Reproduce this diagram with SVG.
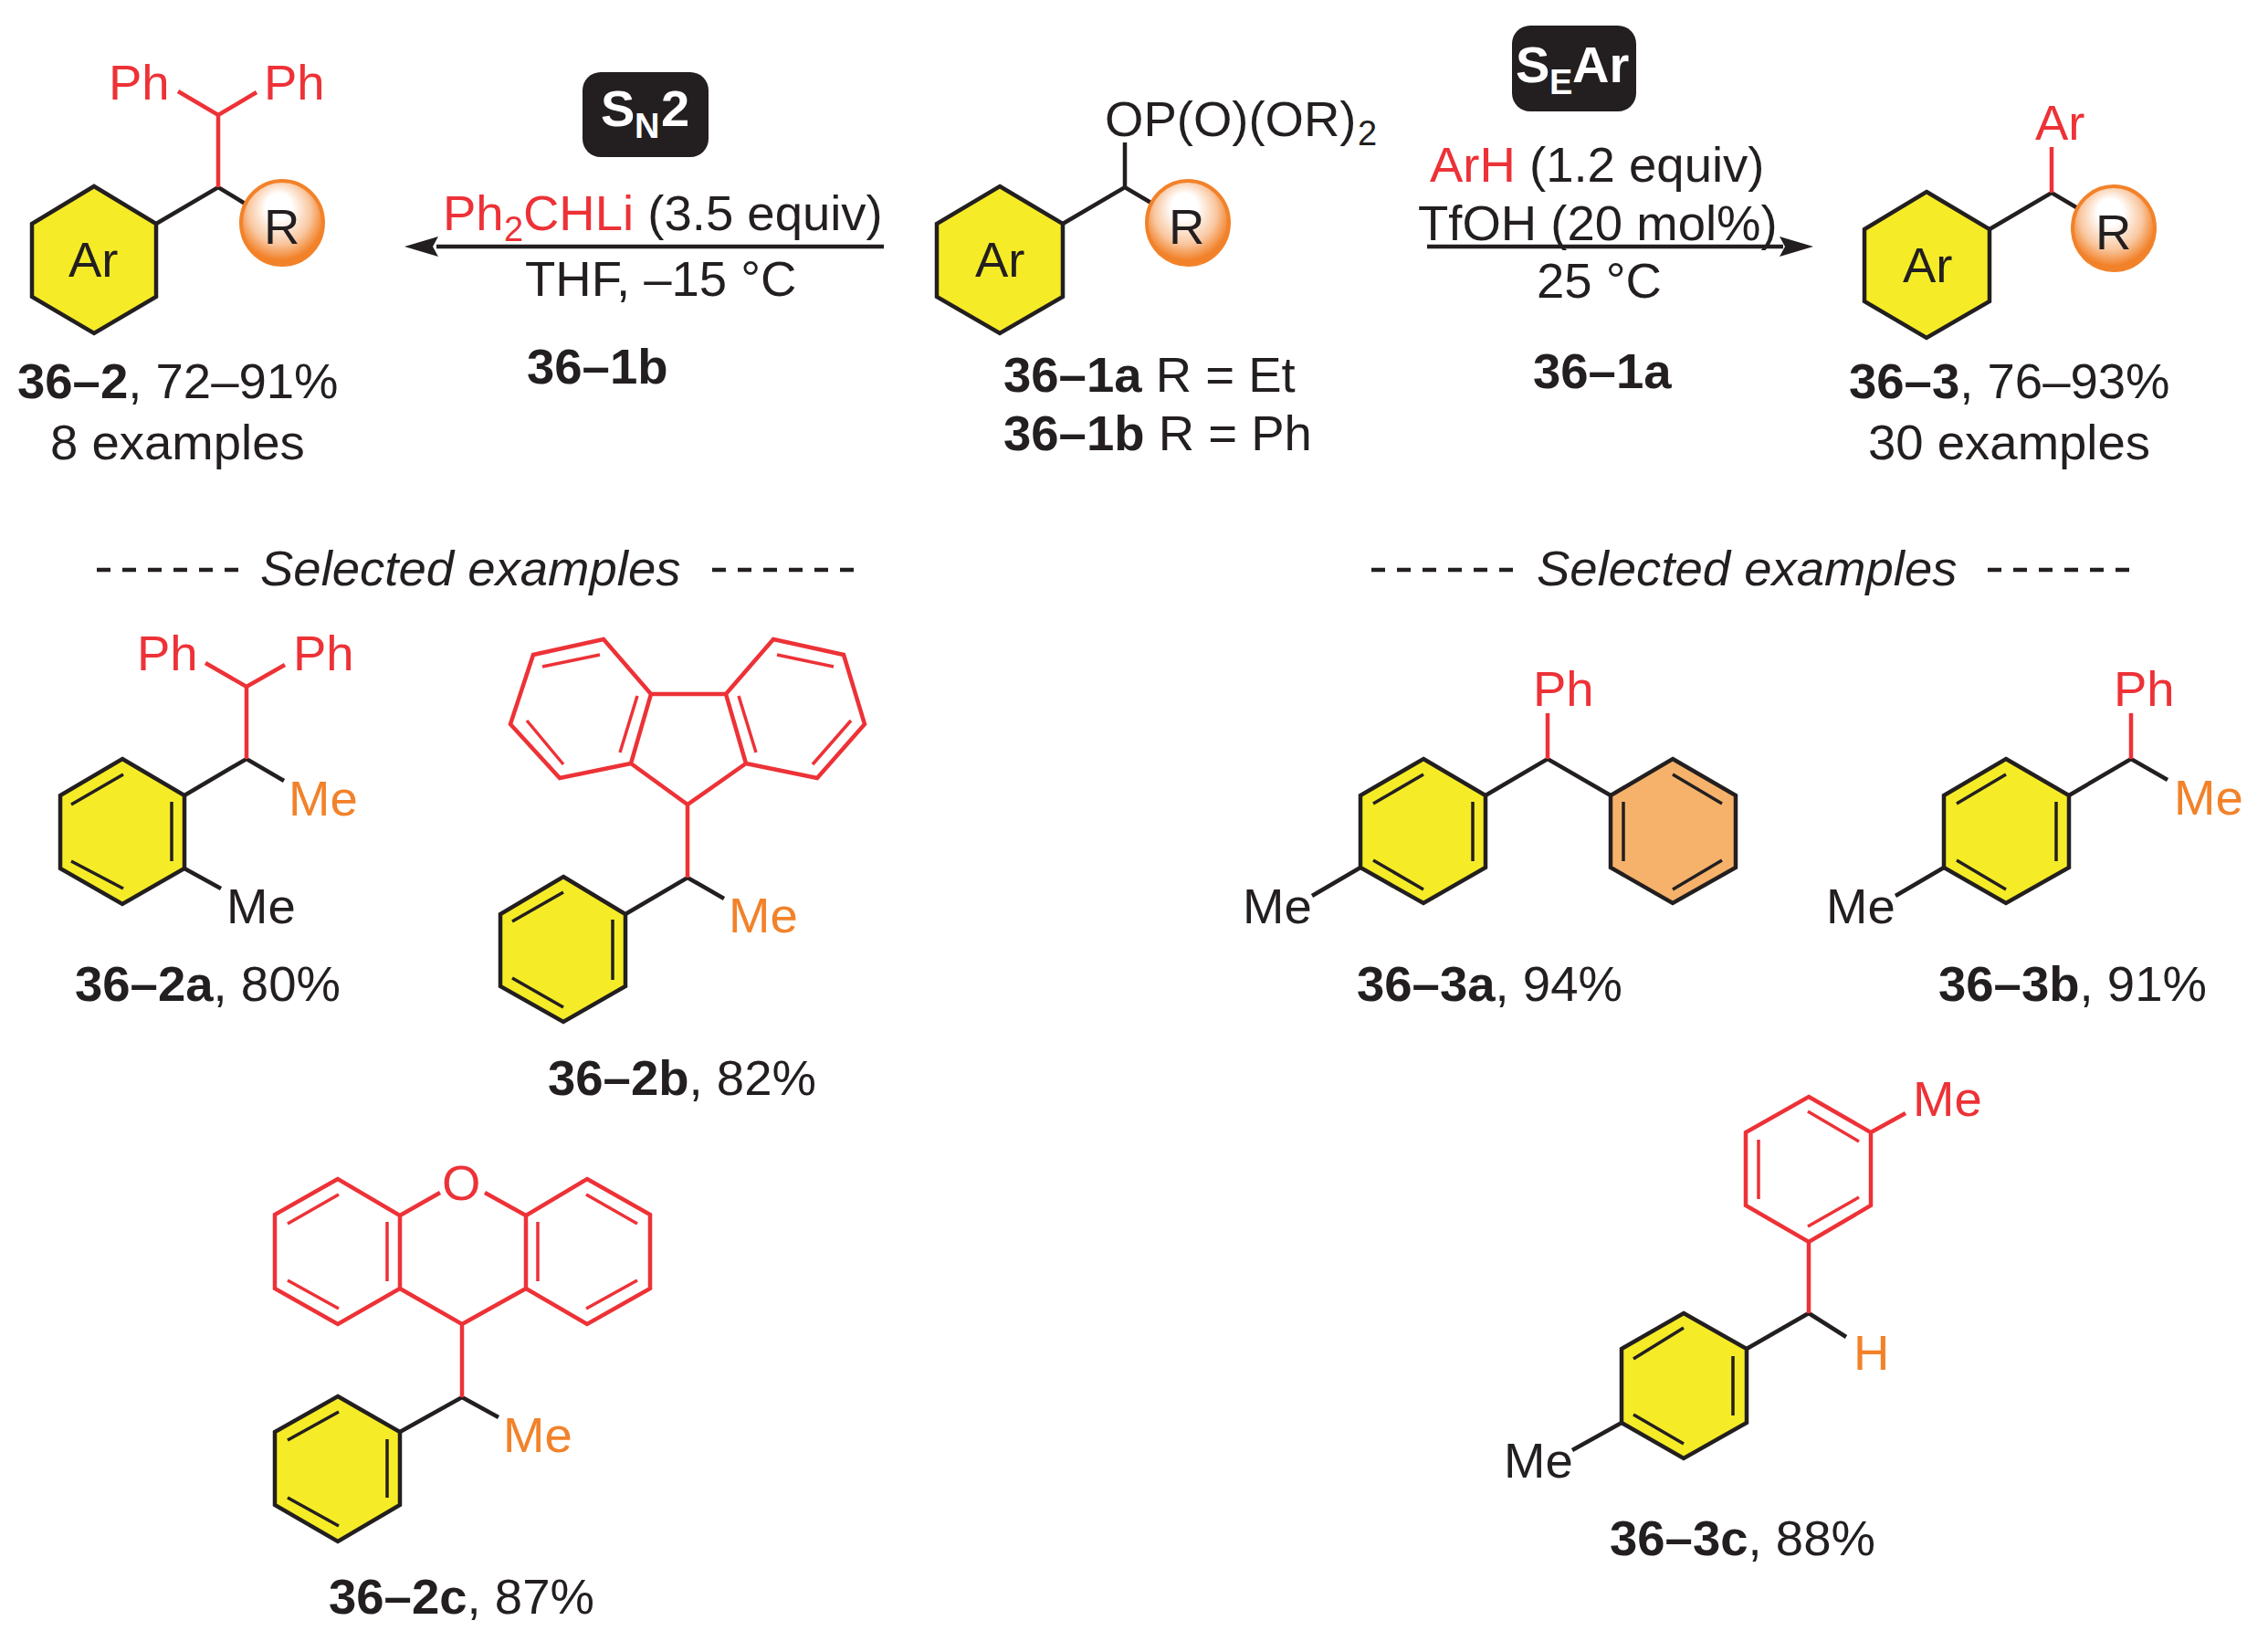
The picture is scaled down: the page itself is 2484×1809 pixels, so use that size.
<svg xmlns="http://www.w3.org/2000/svg" width="2484" height="1809" viewBox="0 0 2484 1809">
<style>
text{font-family:"Liberation Sans",Arial,sans-serif;font-size:54.5px;fill:#231f20}
.b{font-weight:700}
.i{font-style:italic}
.r{fill:#ed3237}
.o{fill:#f2822a}
.w{fill:#fff}
.s{font-size:38px}
.k,.kr,.in,.inr{fill:none;stroke-linecap:butt;stroke-linejoin:miter}
.k{stroke:#231f20;stroke-width:4.5}
.kr{stroke:#ed3237;stroke-width:4.5}
.in{stroke:#231f20;stroke-width:3.5}
.inr{stroke:#ed3237;stroke-width:3.5}
.y{fill:#f5ec27;stroke:#231f20;stroke-width:4.5;stroke-linejoin:miter}
.p{fill:#f6b26b;stroke:#231f20;stroke-width:4.5;stroke-linejoin:miter}
.ball{fill:url(#ball);stroke:#f2822a;stroke-width:4}
.box{fill:#231f20}
.dash{stroke:#231f20;stroke-width:4.5;stroke-dasharray:15 13;fill:none}
.arr{stroke:#231f20;stroke-width:4.5;fill:none}
.head{fill:#231f20}
</style>
<defs>
<radialGradient id="ball" cx="0.48" cy="0.42" r="0.56" fx="0.45" fy="0.26">
<stop offset="0" stop-color="#fff"/>
<stop offset="0.28" stop-color="#fff"/>
<stop offset="0.68" stop-color="#f9c7a0"/>
<stop offset="0.95" stop-color="#f2822a"/>
</radialGradient>
</defs>
<rect width="2484" height="1809" fill="#fff"/>

<g id="connectors">
<path class="arr" d="M968 270H478"/>
<path class="head" d="M443 270L480 259L474 270L480 281Z"/>
<path class="arr" d="M1563 270H1953"/>
<path class="head" d="M1986 270L1949 259L1955 270L1949 281Z"/>
<path class="dash" d="M106 624H262"/>
<path class="dash" d="M780 624H936"/>
<path class="dash" d="M1502 624H1658"/>
<path class="dash" d="M2177 624H2333"/>
</g>

<g id="badge-sn2">
<rect class="box" x="638" y="79" width="138" height="93" rx="20"/>
<text class="b w" x="658" y="138" style="font-size:56px">S</text>
<text class="b w s" x="695" y="151">N</text>
<text class="b w" x="724" y="138" style="font-size:56px">2</text>
</g>
<g id="conditions-sn2">
<text class="r" x="485" y="252">Ph</text>
<text class="r s" x="552" y="264">2</text>
<text x="573" y="252"><tspan class="r">CHLi</tspan> (3.5 equiv)</text>
<text x="575" y="324">THF, –15 °C</text>
<text class="b" x="577" y="420">36–1b</text>
</g>

<g id="badge-sear">
<rect class="box" x="1656" y="28" width="136" height="94" rx="20"/>
<text class="b w" x="1660" y="90" style="font-size:56px">S</text>
<text class="b w s" x="1697" y="103">E</text>
<text class="b w" x="1722" y="90" style="font-size:56px">Ar</text>
</g>
<g id="conditions-sear">
<text x="1566" y="199"><tspan class="r">ArH</tspan> (1.2 equiv)</text>
<text x="1553" y="263">TfOH (20 mol%)</text>
<text x="1683" y="326">25 °C</text>
<text class="b" x="1679" y="425">36–1a</text>
</g>

<g id="compound-36-2">
<path class="y" d="M103 204L171 245V325L103 365L35 325V245Z"/>
<path class="k" d="M171 245L239 205L270 224"/>
<path class="kr" d="M239 205V126M195 100L239 126L281 101"/>
<ellipse class="ball" cx="309" cy="244" rx="45" ry="46"/>
<text x="75" y="303">Ar</text>
<text x="289" y="267">R</text>
<text class="r" x="119" y="109">Ph</text>
<text class="r" x="289" y="109">Ph</text>
<text x="19" y="436"><tspan class="b">36–2</tspan>, 72–91%</text>
<text x="55" y="503">8 examples</text>
</g>

<g id="compound-36-1">
<path class="y" d="M1095 204L1164 245V325L1095 365L1026 325V245Z"/>
<path class="k" d="M1164 245L1232 205L1264 224M1232 205V156"/>
<ellipse class="ball" cx="1301" cy="244" rx="45" ry="46"/>
<text x="1068" y="303">Ar</text>
<text x="1280" y="267">R</text>
<text x="1210" y="149">OP(O)(OR)</text>
<text class="s" x="1487" y="159">2</text>
<text x="1099" y="429"><tspan class="b">36–1a</tspan> R = Et</text>
<text x="1099" y="493"><tspan class="b">36–1b</tspan> R = Ph</text>
</g>

<g id="compound-36-3">
<path class="y" d="M2110 210L2179 251V330L2110 370L2042 330V251Z"/>
<path class="k" d="M2179 251L2247 211L2279 230"/>
<path class="kr" d="M2247 211V161"/>
<ellipse class="ball" cx="2315" cy="250" rx="45" ry="46"/>
<text x="2084" y="309">Ar</text>
<text x="2295" y="273">R</text>
<text class="r" x="2229" y="153">Ar</text>
<text x="2025" y="436"><tspan class="b">36–3</tspan>, 76–93%</text>
<text x="2046" y="503">30 examples</text>
</g>

<text class="i" x="285" y="641">Selected examples</text>
<text class="i" x="1683" y="641">Selected examples</text>

<g id="compound-36-2a">
<path class="y" d="M134 831L202 871V951L134 990L66 951V871Z"/>
<path class="in" d="M135 848L78 881M188 878V943M78 943L135 973"/>
<path class="k" d="M202 871L270 831L311 855M202 951L242 973"/>
<path class="kr" d="M270 831V752M225 726L270 752L312 728"/>
<text class="r" x="150" y="734">Ph</text>
<text class="r" x="321" y="734">Ph</text>
<text class="o" x="316" y="893">Me</text>
<text x="248" y="1011">Me</text>
<text x="82" y="1096"><tspan class="b">36–2a</tspan>, 80%</text>
</g>

<g id="compound-36-2b">
<path class="y" d="M617 960L685 1001V1080L617 1119L548 1080V1001Z"/>
<path class="in" d="M617 977L561 1009M671 1007V1073M561 1071L617 1103"/>
<path class="k" d="M685 1001L753 961L793 984"/>
<path class="kr" d="M753 961V881M691 836L753 881L817 836M713 760H795M713 760L661 700L584 717L559 793L613 852L691 836ZM795 760L847 700L924 717L947 793L895 852L817 836Z"/>
<path class="inr" d="M657 717L594 730M577 789L617 837M698 762L679 824M851 717L913 730M932 789L890 837M809 762L828 824"/>
<text class="o" x="798" y="1021">Me</text>
<text x="600" y="1199"><tspan class="b">36–2b</tspan>, 82%</text>
</g>

<g id="compound-36-2c">
<path class="y" d="M370 1529L438 1568V1648L370 1688L301 1648V1568Z"/>
<path class="in" d="M371 1546L315 1577M424 1576V1640M315 1640L371 1671"/>
<path class="k" d="M438 1568L506 1530L546 1552"/>
<path class="kr" d="M370 1291L301 1330V1411L370 1450L438 1411V1331ZM643 1291L712 1330V1411L643 1450L576 1411V1331ZM438 1331L482 1306M576 1331L531 1306M438 1411L506 1450L576 1411M506 1450V1530"/>
<path class="inr" d="M371 1308L315 1340M424 1338V1403M315 1402L371 1433M642 1308L698 1340M589 1338V1403M698 1402L642 1433"/>
<text class="r" x="484" y="1314">O</text>
<text class="o" x="551" y="1590">Me</text>
<text x="360" y="1767"><tspan class="b">36–2c</tspan>, 87%</text>
</g>

<g id="compound-36-3a">
<path class="y" d="M1559 831L1627 871V950L1559 989L1490 950V871Z"/>
<path class="in" d="M1559 848L1504 880M1613 878V943M1504 942L1559 974"/>
<path class="p" d="M1832 831L1901 871V950L1832 989L1764 950V871Z"/>
<path class="in" d="M1832 848L1886 880M1778 878V943M1886 942L1832 974"/>
<path class="k" d="M1627 871L1695 831L1764 871M1490 950L1437 981"/>
<path class="kr" d="M1695 831V781"/>
<text class="r" x="1679" y="773">Ph</text>
<text x="1361" y="1011">Me</text>
<text x="1486" y="1096"><tspan class="b">36–3a</tspan>, 94%</text>
</g>

<g id="compound-36-3b">
<path class="y" d="M2197 831L2266 871V950L2197 989L2129 950V871Z"/>
<path class="in" d="M2197 848L2143 880M2252 878V943M2143 942L2197 974"/>
<path class="k" d="M2266 871L2334 831L2374 854M2129 950L2076 981"/>
<path class="kr" d="M2334 831V781"/>
<text class="r" x="2315" y="773">Ph</text>
<text class="o" x="2381" y="892">Me</text>
<text x="2000" y="1011">Me</text>
<text x="2123" y="1096"><tspan class="b">36–3b</tspan>, 91%</text>
</g>

<g id="compound-36-3c">
<path class="y" d="M1844 1438L1913 1477V1558L1844 1597L1776 1558V1477Z"/>
<path class="in" d="M1844 1454L1789 1488M1898 1485V1550M1789 1549L1844 1581"/>
<path class="k" d="M1913 1477L1981 1438L2022 1464M1776 1558L1722 1588"/>
<path class="kr" d="M1981 1201L2049 1240V1320L1981 1360L1912 1320V1240ZM2049 1240L2087 1219M1981 1360V1438"/>
<path class="inr" d="M1980 1217L2036 1250M1926 1248V1313M1980 1343L2036 1311"/>
<text class="r" x="2095" y="1222">Me</text>
<text class="o" x="2030" y="1500">H</text>
<text x="1647" y="1618">Me</text>
<text x="1763" y="1703"><tspan class="b">36–3c</tspan>, 88%</text>
</g>
</svg>
